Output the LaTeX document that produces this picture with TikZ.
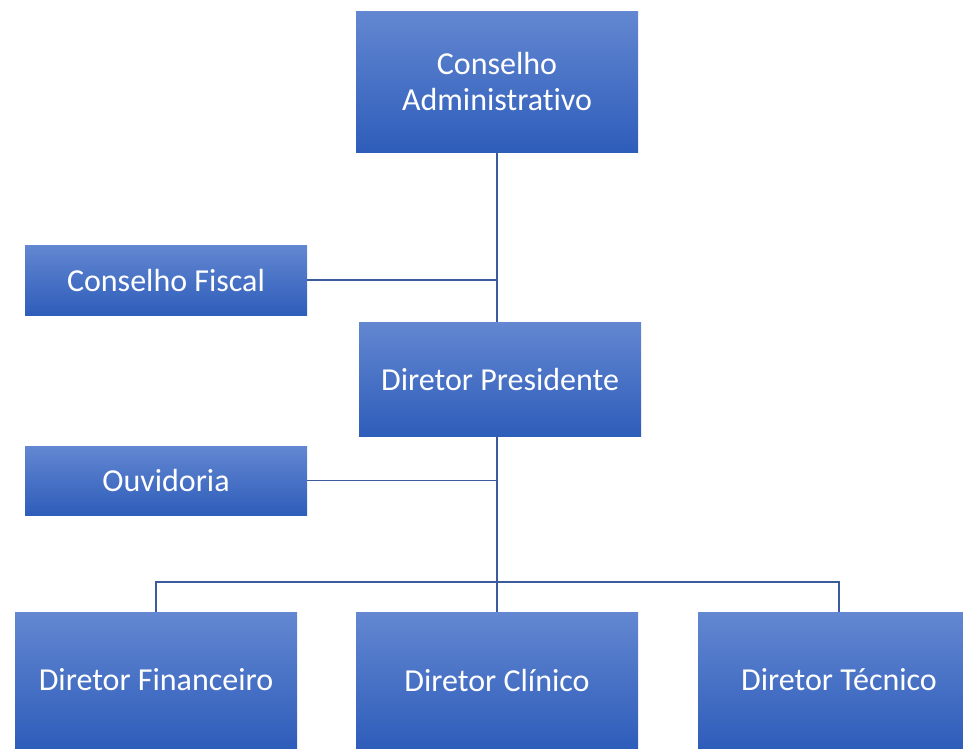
\documentclass[tikz,border=0pt]{standalone}
\usepackage{fontspec}
\setmainfont[Ligatures={NoCommon,NoRare,NoContextual},Contextuals=NoAlternate]{Carlito}
\definecolor{boxtop}{HTML}{6387D1}
\definecolor{boxbot}{HTML}{2E5DBA}
\definecolor{linkcol}{HTML}{3B5C9C}
\begin{document}
\begin{tikzpicture}[x=1pt,y=-1pt,
  orgbox/.style={rectangle,minimum width=282pt,inner sep=0pt,top color=boxtop,bottom color=boxbot,
    text=white,align=center,font=\fontsize{32}{36}\selectfont},
  link/.style={draw=linkcol,line width=1.2pt}]
\useasboundingbox (0,0) rectangle (963,748);
\clip (0,0) rectangle (963,748);
% caixas
\node[orgbox,minimum height=141pt] (cadm) at (497,81.5) {Conselho\\Administrat\kern0pt ivo};
\node[orgbox,minimum height=70pt] (cfiscal) at (166,280) {Conselho Fiscal};
\node[orgbox,minimum height=114pt] (dpres) at (500,379) {Diretor Presidente};
\node[orgbox,minimum height=69pt] (ouvid) at (166,480.5) {Ouvidoria};
\node[orgbox,minimum height=136pt] (dfin) at (156,680) {Diretor Financeiro};
\node[orgbox,minimum height=136pt] (dclin) at (497,680) {Diretor Clínico};
\node[orgbox,minimum height=136pt] (dtec) at (839,680) {Diretor Técnico};
% ligacoes
\coordinate (jfiscal) at (cadm.south |- cfiscal);
\coordinate (jouvid) at (cadm.south |- ouvid);
\coordinate (jbar) at (497,582);
\draw[link] (cadm.south) -- (cadm.south |- dpres.north);
\draw[link] (cfiscal.east) -- (jfiscal);
\draw[link] (cadm.south |- dpres.south) -- (dclin.north);
\draw[link] (ouvid.east) -- (jouvid);
\draw[link] (dfin.north) -- (dfin.north |- jbar) -- (dtec.north |- jbar) -- (dtec.north);
\end{tikzpicture}
\end{document}
